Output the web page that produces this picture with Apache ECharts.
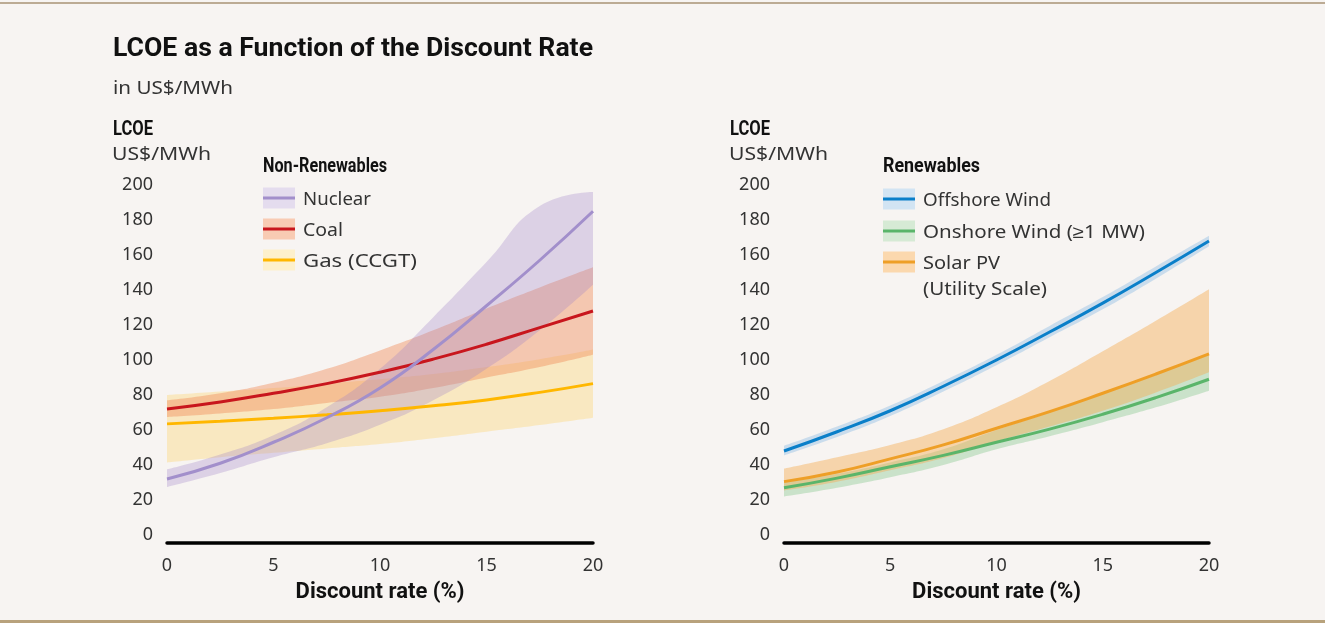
<!DOCTYPE html>
<html>
<head>
<meta charset="utf-8">
<script src="https://cdn.jsdelivr.net/npm/echarts@6/dist/echarts.min.js"></script>
<style>
  html, body { margin: 0; padding: 0; background: #f7f4f2; }
  #chart { width: 1325px; height: 623px; }
</style>
</head>
<body>
<div id="chart"></div>
<script>
// ---------------- DATA ----------------
const rates = [0, 2.5, 5, 7.5, 10, 12.5, 15, 17.5, 20];   // discount rate (%)
const yTicks = [0, 20, 40, 60, 80, 100, 120, 140, 160, 180, 200];

// Non-renewables (US$/MWh)
const nuclear     = [32, 41, 53, 67, 84, 106, 131, 157, 185];
const nuclearLow  = [27.5, 35.5, 44.5, 52.5, 63, 77, 95, 117, 143];
const nuclearHigh = [37.5, 46, 57, 73, 95, 124.5, 156, 188, 196];
const coal        = [72, 76, 81, 86.5, 93, 100.5, 109, 118.5, 128];
const coalLow     = [67.5, 69.5, 72, 75.5, 79, 84, 90, 96, 103];
const coalHigh    = [77, 81, 87, 95, 105.5, 117, 129.5, 141.5, 153];
const gas         = [63.5, 65, 66.7, 68.7, 71, 73.8, 77.2, 81.5, 86.5];
const gasLow      = [41.5, 44.5, 47, 49.5, 52, 55.3, 59, 62.8, 67];
const gasHigh     = [80, 82, 84, 86.5, 89, 92, 96, 100.5, 106];

// Renewables (US$/MWh)
const offshore     = [48, 59, 71, 85, 100, 116, 132.5, 150, 168];
const offshoreLow  = [45.5, 56, 68, 82, 97, 113, 129, 146.5, 165];
const offshoreHigh = [51, 62, 74, 88, 103, 119.5, 136, 153.5, 171];
const onshore      = [27, 32.5, 39, 45.5, 53, 60.5, 69, 78.5, 89];
const onshoreLow   = [22, 27, 33, 40, 49, 56.5, 64.5, 73, 82.5];
const onshoreHigh  = [30, 35, 41.5, 49, 60, 70, 80.5, 91.5, 103];
const solar        = [30.5, 36, 43.5, 51.5, 61, 70.5, 81, 92, 103.5];
const solarLow     = [25.5, 30.5, 37, 44, 53.5, 62, 71, 81.5, 93];
const solarHigh    = [38, 44.5, 51.5, 60.5, 73, 88, 105, 122.5, 140.5];

const leftLegend  = ['Nuclear', 'Coal', 'Gas (CCGT)'];
const rightLegend = ['Offshore Wind', 'Onshore Wind (≥1 MW)', 'Solar PV', '(Utility Scale)'];

// ---------------- STYLE ----------------
const REG = "'Noto Sans', sans-serif";
const BOLD = "Roboto, 'Noto Sans', sans-serif";
const C = {
  nuclear: {line: '#a28fcb', band: 'rgba(160,130,200,0.30)', sw: '#e4dcee'},
  coal:    {line: '#c8161d', band: 'rgba(240,135,85,0.42)', sw: '#f8cbb3'},
  gas:     {line: '#ffb700', band: 'rgba(255,208,90,0.32)', sw: '#fdf0cc'},
  off:     {line: '#0a7fc9', band: 'rgba(110,170,225,0.32)', sw: '#d2e4f3'},
  on:      {line: '#5ab56a', band: 'rgba(100,185,110,0.30)', sw: '#d6ead5'},
  solar:   {line: '#ee9f27', band: 'rgba(245,172,85,0.45)', sw: '#fbd8ae'}
};
const SMOOTH = true;

function band(id, lo, hi, color, gi) {
  return [
    {type: 'line', xAxisIndex: gi, yAxisIndex: gi, stack: id, data: lo.slice(),
     smooth: SMOOTH, symbol: 'none', lineStyle: {opacity: 0}, silent: true, z: 1},
    {type: 'line', xAxisIndex: gi, yAxisIndex: gi, stack: id,
     data: hi.map((h, i) => h - lo[i]),
     smooth: SMOOTH, symbol: 'none', lineStyle: {opacity: 0},
     areaStyle: {color: color, opacity: 1}, silent: true, z: 1}
  ];
}
function line(name, arr, color, gi) {
  return {type: 'line', name: name, xAxisIndex: gi, yAxisIndex: gi, data: arr.slice(),
    smooth: SMOOTH, symbol: 'none', lineStyle: {color: color, width: 3}, z: 5};
}

function xAx(gi) {
  return {gridIndex: gi, type: 'category', data: rates.map(String), boundaryGap: false, offset: 8,
    axisLine: {show: true, onZero: false, lineStyle: {color: '#000', width: 3.5, cap: 'round'}},
    axisTick: {show: false}, splitLine: {show: false},
    axisLabel: {color: '#333', fontSize: 18, fontFamily: REG, margin: 14, interval: 1},
    name: 'Discount rate (%)', nameLocation: 'middle', nameGap: 38,
    nameTextStyle: {color: '#111', fontSize: 22, fontWeight: 'bold', fontFamily: BOLD}};
}
function yAx(gi) {
  return {gridIndex: gi, type: 'value', min: 0, max: 200, interval: 20,
    axisLine: {show: false}, axisTick: {show: false}, splitLine: {show: false},
    axisLabel: {color: '#333', fontSize: 18, fontFamily: REG, margin: 14, padding: [5, 0, 0, 0],
      formatter: v => yTicks.indexOf(v) >= 0 ? String(v) : ''}};
}

// text fitted to the width seen in the reference
const cv = document.createElement('canvas').getContext('2d');
function fitText(text, x, y, font, width, fill) {
  cv.font = font;
  const w = cv.measureText(text).width;
  return {type: 'text', x: x, y: y, scaleX: width / w,
    style: {text: text, font: font, fill: fill, verticalAlign: 'middle', align: 'left'}};
}
const bold = (t, x, y, size, w) => fitText(t, x, y, 'bold ' + size + 'px ' + BOLD, w, '#111');
const reg = (t, x, y, w) => fitText(t, x, y, '18px ' + REG, w, '#333');

function swatch(x, y, c) {
  return [
    {type: 'rect', shape: {x: x, y: y - 10.5, width: 32, height: 21}, style: {fill: c.sw}},
    {type: 'line', shape: {x1: x, y1: y, x2: x + 32, y2: y}, style: {stroke: c.line, lineWidth: 3}}
  ];
}

const graphics = [
  {type: 'rect', shape: {x: 0, y: 2, width: 1325, height: 2}, style: {fill: '#bcab94'}},
  {type: 'rect', shape: {x: 0, y: 620, width: 1325, height: 3}, style: {fill: '#b8a27c'}},
  bold('LCOE as a Function of the Discount Rate', 113, 49, 26, 480),
  reg('in US$/MWh', 113, 89, 120),
  bold('LCOE', 113, 130, 20, 40),
  reg('US$/MWh', 112, 155, 99),
  bold('LCOE', 730, 130, 20, 40),
  reg('US$/MWh', 729, 155, 99),
  bold('Non-Renewables', 263, 167, 20, 124),
  bold('Renewables', 883, 167, 20, 97)
];
const lc = [C.nuclear, C.coal, C.gas];
const ly = [198, 229, 260];
const lw = [68, 40, 114];
leftLegend.forEach((t, i) => {
  graphics.push(...swatch(263, ly[i], lc[i]));
  graphics.push(reg(t, 303, ly[i] + 2, lw[i]));
});
const rc = [C.off, C.on, C.solar];
const ry = [199, 231, 262];
const rw = [128, 222, 77, 124];
rc.forEach((c, i) => graphics.push(...swatch(883, ry[i], c)));
const rty = [199, 231, 262, 288];
rightLegend.forEach((t, i) => graphics.push(reg(t, 923, rty[i] + 2, rw[i])));

const option = {
  backgroundColor: '#f7f4f2',
  animation: false,
  grid: [
    {left: 167, top: 185, width: 426, height: 350},
    {left: 784, top: 185, width: 425, height: 350}
  ],
  xAxis: [xAx(0), xAx(1)],
  yAxis: [yAx(0), yAx(1)],
  series: [
    ...band('gasB', gasLow, gasHigh, C.gas.band, 0),
    ...band('coalB', coalLow, coalHigh, C.coal.band, 0),
    ...band('nucB', nuclearLow, nuclearHigh, C.nuclear.band, 0),
    line('Gas (CCGT)', gas, C.gas.line, 0),
    line('Coal', coal, C.coal.line, 0),
    line('Nuclear', nuclear, C.nuclear.line, 0),
    ...band('offB', offshoreLow, offshoreHigh, C.off.band, 1),
    ...band('onB', onshoreLow, onshoreHigh, C.on.band, 1),
    ...band('solB', solarLow, solarHigh, C.solar.band, 1),
    line('Onshore Wind (≥1 MW)', onshore, C.on.line, 1),
    line('Solar PV (Utility Scale)', solar, C.solar.line, 1),
    line('Offshore Wind', offshore, C.off.line, 1)
  ],
  graphic: graphics
};

const chart = echarts.init(document.getElementById('chart'), null, {renderer: 'canvas'});
chart.setOption(option);
</script>
</body>
</html>
